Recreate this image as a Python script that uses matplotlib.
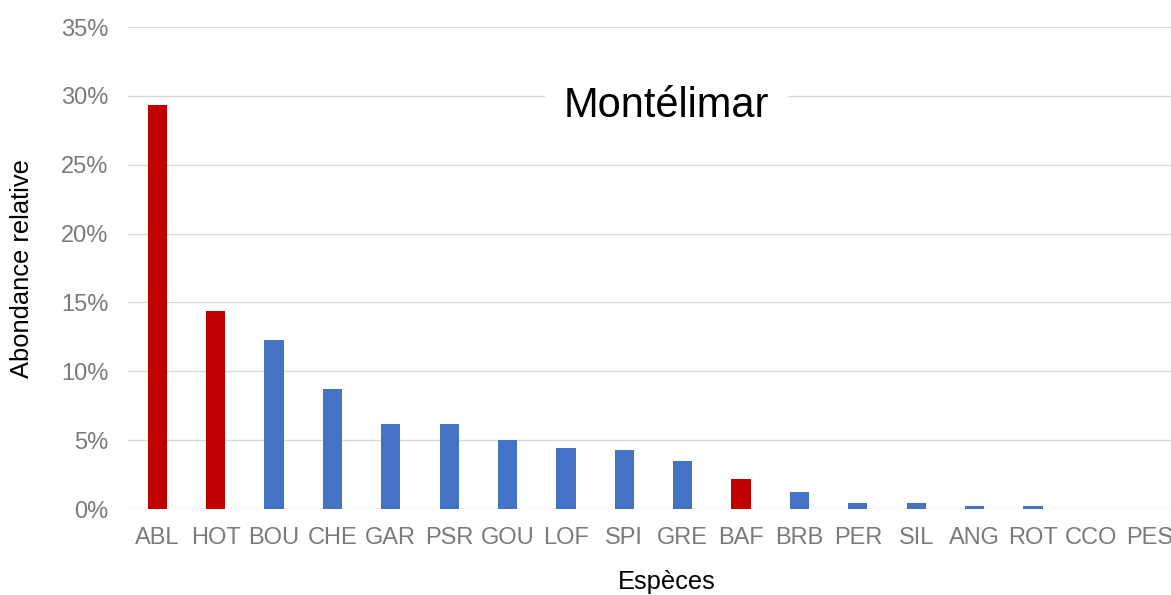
import matplotlib
matplotlib.use("Agg")
import matplotlib.pyplot as plt
from matplotlib.ticker import FuncFormatter

species = ["ABL", "HOT", "BOU", "CHE", "GAR", "PSR", "GOU", "LOF", "SPI",
           "GRE", "BAF", "BRB", "PER", "SIL", "ANG", "ROT", "CCO", "PES"]
abundance = [29.3, 14.4, 12.3, 8.7, 6.2, 6.2, 5.0, 4.4, 4.25,
             3.5, 2.15, 1.2, 0.42, 0.42, 0.22, 0.22, 0.0, 0.0]
highlight = ["ABL", "HOT", "BAF"]
yticks = [0, 5, 10, 15, 20, 25, 30, 35]

RED = "#C00000"
BLUE = "#4472C4"
colors = [RED if s in highlight else BLUE for s in species]

plt.rcParams["font.family"] = ["Liberation Sans", "DejaVu Sans"]

fig = plt.figure(figsize=(11.71, 5.95), dpi=100)
ax = fig.add_axes([128 / 1171, 1 - 509 / 595, 1051 / 1171, 482 / 595])

x = list(range(len(species)))
ax.bar(x, abundance, width=0.33, color=colors, zorder=3)

ax.set_xlim(-0.5, len(species) - 0.5)
ax.set_ylim(0, 35)
ax.set_yticks(yticks)
ax.yaxis.set_major_formatter(FuncFormatter(lambda v, p: f"{int(v)}%"))
ax.set_xticks(x)
ax.set_xticklabels(species)
ax.grid(axis="y", color="#D9D9D9", linewidth=1.0, zorder=0)
ax.grid(axis="x", visible=False)
for sp in ax.spines.values():
    sp.set_visible(False)
ax.tick_params(axis="both", length=0, labelsize=17, labelcolor="#7a7a7a")
ax.tick_params(axis="x", pad=13)
ax.tick_params(axis="y", pad=14)

fig.text(666 / 1171, 1 - 117 / 595, "Montélimar", fontsize=30, color="black",
         ha="center", va="baseline", zorder=5,
         bbox=dict(boxstyle="square,pad=0.45", facecolor="white", edgecolor="none"))
fig.text(22 / 1171, 1 - 269 / 595, "Abondance relative", fontsize=18.4,
         rotation=90, ha="center", va="center", color="black")
fig.text(667 / 1171, 1 - 582 / 595, "Espèces", fontsize=18.4,
         ha="center", va="center", color="black")

fig.savefig("out.png", dpi=100)
